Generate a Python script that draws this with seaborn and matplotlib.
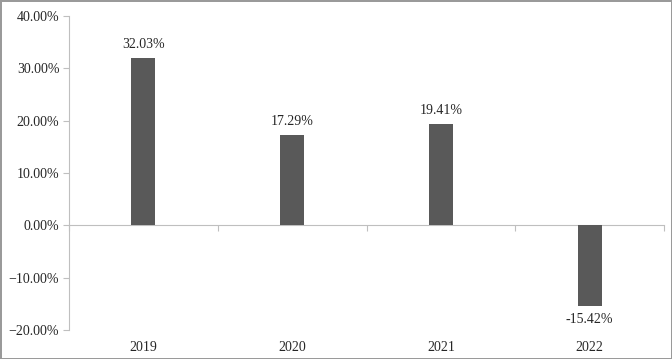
import numpy as np
import pandas as pd
import seaborn as sns
import matplotlib.pyplot as plt
from matplotlib import font_manager
from matplotlib.ticker import PercentFormatter

# data
years = ["2019", "2020", "2021", "2022"]
returns = [32.03, 17.29, 19.41, -15.42]
y_ticks = [-20, -10, 0, 10, 20, 30, 40]

df = pd.DataFrame({"year": years, "ret": returns})

sns.set_style("white")
installed = {f.name for f in font_manager.fontManager.ttflist}
serif = [f for f in ["Liberation Serif", "Times New Roman", "Nimbus Roman",
                     "FreeSerif", "Noto Serif"] if f in installed]
plt.rcParams["font.family"] = serif + ["DejaVu Serif"]

fig = plt.figure(figsize=(6.72, 3.59), dpi=100)
fig.patch.set_edgecolor("#9a9a9a")
fig.patch.set_linewidth(2)
ax = fig.add_axes([69 / 672, 29 / 359, 595 / 672, 314 / 359])

sns.barplot(data=df, x="year", y="ret", color="#595959", width=0.16,
            saturation=1, linewidth=0, ax=ax)
ax.bar_label(ax.containers[0], labels=[f"{v:.2f}%" for v in returns],
             padding=5, fontsize=10, color="#262626")

ax.set_ylim(-20, 40)
ax.set_xlim(-0.5, len(years) - 0.5)
ax.set_yticks(y_ticks)
ax.yaxis.set_major_formatter(PercentFormatter(decimals=2))
ax.tick_params(axis="y", direction="out", length=4, width=0.8, color="#bfbfbf",
               labelsize=10, labelcolor="#262626", pad=3, left=True)

# category labels along the bottom, no ticks there
ax.tick_params(axis="x", length=0, labelsize=10, labelcolor="#262626", pad=8)
ax.set_xlabel("")
ax.set_ylabel("")

for s in ["top", "right", "bottom"]:
    ax.spines[s].set_visible(False)
ax.spines["left"].set_color("#bfbfbf")
ax.spines["left"].set_linewidth(0.8)

# zero line with ticks at the category boundaries
zero = ax.secondary_xaxis(20 / 60)
zero.set_xticks(np.arange(-0.5, len(years), 1.0))
zero.set_xticklabels([])
zero.tick_params(direction="out", length=4, width=0.8, color="#bfbfbf")
zero.spines["bottom"].set_color("#bfbfbf")
zero.spines["bottom"].set_linewidth(0.8)
zero.spines["top"].set_visible(False)

fig.savefig("out.png", dpi=100)
